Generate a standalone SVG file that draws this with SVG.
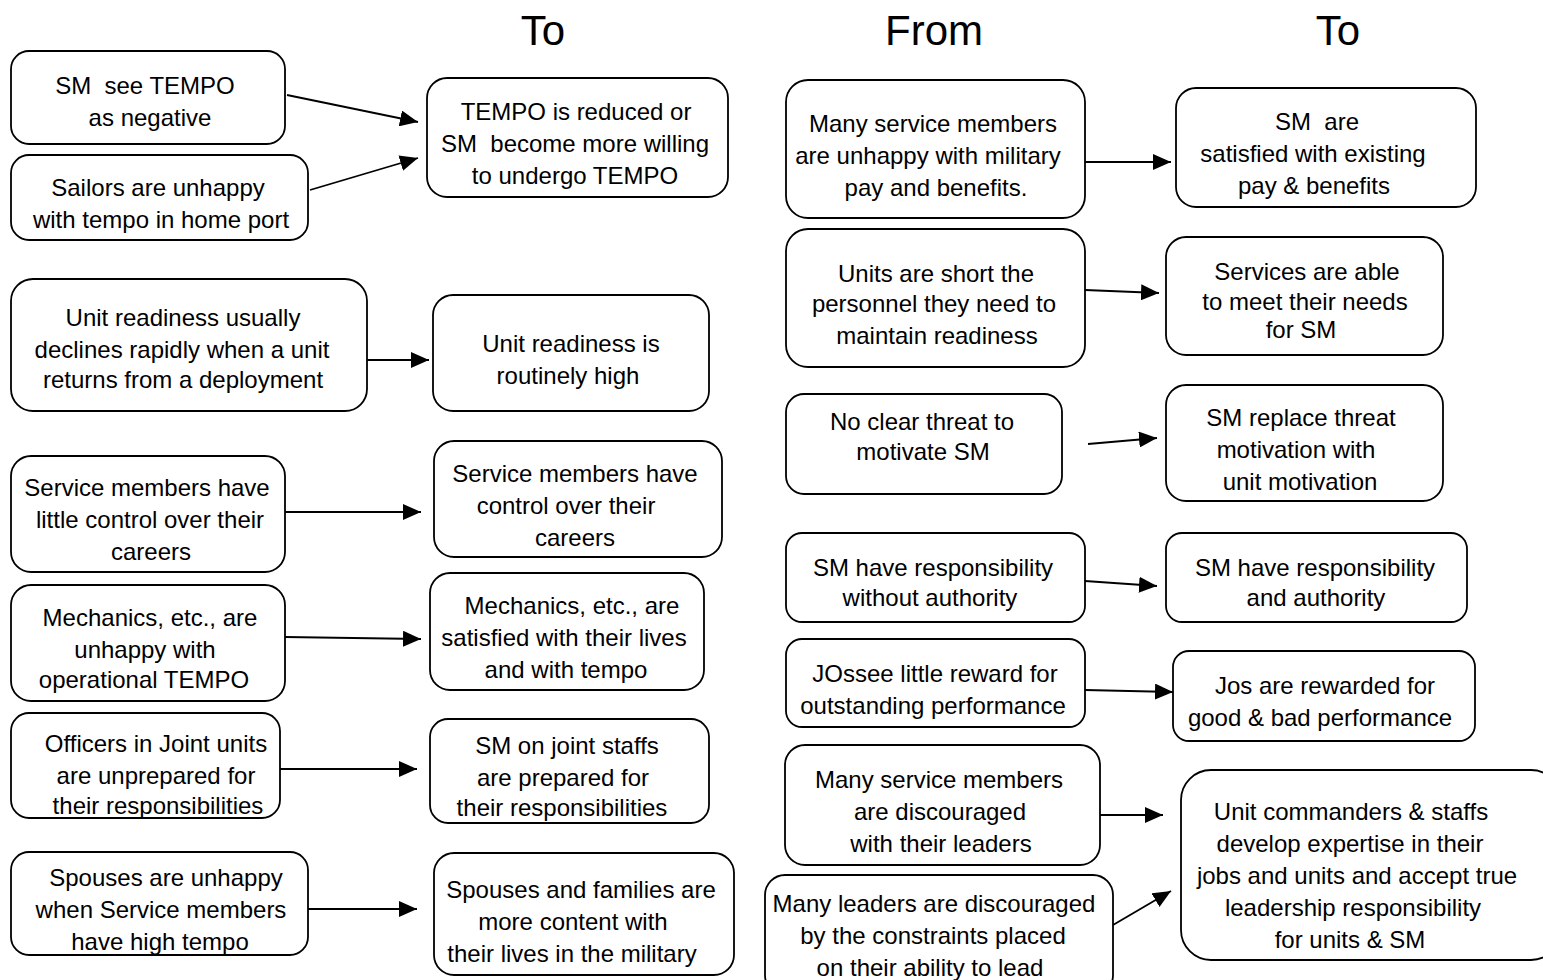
<svg xmlns="http://www.w3.org/2000/svg" width="1543" height="980" viewBox="0 0 1543 980">
  <style>
    .box { fill: #ffffff; stroke: #000000; stroke-width: 1.8; }
    .t { font-family: "Liberation Sans", Arial, sans-serif; font-size: 24px; fill: #000000; text-anchor: middle; }
    .title { font-family: "Liberation Sans", Arial, sans-serif; font-size: 42px; fill: #000000; text-anchor: middle; }
    .arrow { stroke: #000000; stroke-width: 1.8; fill: none; marker-end: url(#head); }
  </style>
  <defs>
    <marker id="head" markerUnits="userSpaceOnUse" markerWidth="20" markerHeight="16" refX="18" refY="8" orient="auto">
      <path d="M0,0 L18,8 L0,16 Z" fill="#000000"/>
    </marker>
  </defs>
  <rect x="0" y="0" width="1543" height="980" fill="#ffffff"/>

  <!-- column headings -->
  <g id="headings">
    <text class="title" x="543" y="45">To</text>
    <text class="title" x="934" y="45">From</text>
    <text class="title" x="1338" y="45">To</text>
  </g>

  <!-- connectors -->
  <g id="connectors">
    <line class="arrow" x1="287" y1="95" x2="418" y2="122"/>
    <line class="arrow" x1="310" y1="190" x2="418" y2="158"/>
    <line class="arrow" x1="367" y1="360" x2="429" y2="360"/>
    <line class="arrow" x1="285" y1="512" x2="421" y2="512"/>
    <line class="arrow" x1="285" y1="637" x2="421" y2="639"/>
    <line class="arrow" x1="280" y1="769" x2="417" y2="769"/>
    <line class="arrow" x1="308" y1="909" x2="417" y2="909"/>

    <line class="arrow" x1="1085" y1="162" x2="1171" y2="162"/>
    <line class="arrow" x1="1085" y1="290" x2="1159" y2="293"/>
    <line class="arrow" x1="1088" y1="444" x2="1157" y2="438"/>
    <line class="arrow" x1="1085" y1="581" x2="1157" y2="586"/>
    <line class="arrow" x1="1085" y1="690" x2="1173" y2="692"/>
    <line class="arrow" x1="1100" y1="815" x2="1163" y2="815"/>
    <line class="arrow" x1="1113" y1="925" x2="1171" y2="891"/>
  </g>

  <!-- left "From" column -->
  <g id="n-tempo-negative">
    <rect class="box" x="11" y="51" width="274" height="93" rx="18"/>
    <text class="t" x="145" y="94" xml:space="preserve">SM  see TEMPO</text>
    <text class="t" x="150" y="126">as negative</text>
  </g>
  <g id="n-sailors">
    <rect class="box" x="11" y="155" width="297" height="85" rx="18"/>
    <text class="t" x="158" y="196">Sailors are unhappy</text>
    <text class="t" x="161" y="228">with tempo in home port</text>
  </g>
  <g id="n-readiness-declines">
    <rect class="box" x="11" y="279" width="356" height="132" rx="22"/>
    <text class="t" x="183" y="326">Unit readiness usually</text>
    <text class="t" x="182" y="358">declines rapidly when a unit</text>
    <text class="t" x="183" y="388">returns from a deployment</text>
  </g>
  <g id="n-little-control">
    <rect class="box" x="11" y="456" width="274" height="116" rx="20"/>
    <text class="t" x="147" y="496">Service members have</text>
    <text class="t" x="150" y="528">little control over their</text>
    <text class="t" x="151" y="560">careers</text>
  </g>
  <g id="n-mechanics-unhappy">
    <rect class="box" x="11" y="585" width="274" height="116" rx="20"/>
    <text class="t" x="150" y="626">Mechanics, etc., are</text>
    <text class="t" x="145" y="658">unhappy with</text>
    <text class="t" x="144" y="688">operational TEMPO</text>
  </g>
  <g id="n-officers-unprepared">
    <rect class="box" x="11" y="713" width="269" height="105" rx="18"/>
    <text class="t" x="156" y="752">Officers in Joint units</text>
    <text class="t" x="156" y="784">are unprepared for</text>
    <text class="t" x="158" y="814">their responsibilities</text>
  </g>
  <g id="n-spouses-unhappy">
    <rect class="box" x="11" y="852" width="297" height="103" rx="18"/>
    <text class="t" x="166" y="886">Spouses are unhappy</text>
    <text class="t" x="161" y="918">when Service members</text>
    <text class="t" x="160" y="950">have high tempo</text>
  </g>

  <!-- left "To" column -->
  <g id="n-tempo-reduced">
    <rect class="box" x="427" y="78" width="301" height="119" rx="20"/>
    <text class="t" x="576" y="120">TEMPO is reduced or</text>
    <text class="t" x="575" y="152" xml:space="preserve">SM  become more willing</text>
    <text class="t" x="575" y="184">to undergo TEMPO</text>
  </g>
  <g id="n-readiness-high">
    <rect class="box" x="433" y="295" width="276" height="116" rx="20"/>
    <text class="t" x="571" y="352">Unit readiness is</text>
    <text class="t" x="568" y="384">routinely high</text>
  </g>
  <g id="n-control">
    <rect class="box" x="434" y="441" width="288" height="116" rx="20"/>
    <text class="t" x="575" y="482">Service members have</text>
    <text class="t" x="566" y="514">control over their</text>
    <text class="t" x="575" y="546">careers</text>
  </g>
  <g id="n-mechanics-satisfied">
    <rect class="box" x="430" y="573" width="274" height="117" rx="20"/>
    <text class="t" x="572" y="614">Mechanics, etc., are</text>
    <text class="t" x="564" y="646">satisfied with their lives</text>
    <text class="t" x="566" y="678">and with tempo</text>
  </g>
  <g id="n-officers-prepared">
    <rect class="box" x="430" y="719" width="279" height="104" rx="18"/>
    <text class="t" x="567" y="754">SM on joint staffs</text>
    <text class="t" x="563" y="786">are prepared for</text>
    <text class="t" x="562" y="816">their responsibilities</text>
  </g>
  <g id="n-spouses-content">
    <rect class="box" x="434" y="853" width="300" height="122" rx="20"/>
    <text class="t" x="581" y="898">Spouses and families are</text>
    <text class="t" x="573" y="930">more content with</text>
    <text class="t" x="572" y="962">their lives in the military</text>
  </g>

  <!-- right "From" column -->
  <g id="n-pay-unhappy">
    <rect class="box" x="786" y="80" width="299" height="138" rx="22"/>
    <text class="t" x="933" y="132">Many service members</text>
    <text class="t" x="928" y="164">are unhappy with military</text>
    <text class="t" x="936" y="196">pay and benefits.</text>
  </g>
  <g id="n-units-short">
    <rect class="box" x="786" y="229" width="299" height="138" rx="22"/>
    <text class="t" x="936" y="282">Units are short the</text>
    <text class="t" x="934" y="312">personnel they need to</text>
    <text class="t" x="937" y="344">maintain readiness</text>
  </g>
  <g id="n-no-threat">
    <rect class="box" x="786" y="394" width="276" height="100" rx="18"/>
    <text class="t" x="922" y="430">No clear threat to</text>
    <text class="t" x="923" y="460">motivate SM</text>
  </g>
  <g id="n-no-authority">
    <rect class="box" x="786" y="533" width="299" height="89" rx="16"/>
    <text class="t" x="933" y="576">SM have responsibility</text>
    <text class="t" x="930" y="606">without authority</text>
  </g>
  <g id="n-little-reward">
    <rect class="box" x="786" y="639" width="299" height="88" rx="16"/>
    <text class="t" x="935" y="682">JOssee little reward for</text>
    <text class="t" x="933" y="714">outstanding performance</text>
  </g>
  <g id="n-discouraged-leaders">
    <rect class="box" x="785" y="745" width="315" height="120" rx="20"/>
    <text class="t" x="939" y="788">Many service members</text>
    <text class="t" x="940" y="820">are discouraged</text>
    <text class="t" x="941" y="852">with their leaders</text>
  </g>
  <g id="n-leaders-constrained">
    <rect class="box" x="765" y="875" width="348" height="120" rx="20"/>
    <text class="t" x="934" y="912">Many leaders are discouraged</text>
    <text class="t" x="933" y="944">by the constraints placed</text>
    <text class="t" x="930" y="976">on their ability to lead</text>
  </g>

  <!-- right "To" column -->
  <g id="n-pay-satisfied">
    <rect class="box" x="1176" y="88" width="300" height="119" rx="20"/>
    <text class="t" x="1317" y="130" xml:space="preserve">SM  are</text>
    <text class="t" x="1313" y="162">satisfied with existing</text>
    <text class="t" x="1314" y="194">pay &amp; benefits</text>
  </g>
  <g id="n-needs-met">
    <rect class="box" x="1166" y="237" width="277" height="118" rx="20"/>
    <text class="t" x="1307" y="280">Services are able</text>
    <text class="t" x="1305" y="310">to meet their needs</text>
    <text class="t" x="1301" y="338">for SM</text>
  </g>
  <g id="n-unit-motivation">
    <rect class="box" x="1166" y="385" width="277" height="116" rx="20"/>
    <text class="t" x="1301" y="426">SM replace threat</text>
    <text class="t" x="1296" y="458">motivation with</text>
    <text class="t" x="1300" y="490">unit motivation</text>
  </g>
  <g id="n-authority">
    <rect class="box" x="1166" y="533" width="301" height="89" rx="16"/>
    <text class="t" x="1315" y="576">SM have responsibility</text>
    <text class="t" x="1316" y="606">and authority</text>
  </g>
  <g id="n-rewarded">
    <rect class="box" x="1173" y="651" width="302" height="90" rx="16"/>
    <text class="t" x="1325" y="694">Jos are rewarded for</text>
    <text class="t" x="1320" y="726">good &amp; bad performance</text>
  </g>
  <g id="n-expertise">
    <rect class="box" x="1181" y="770" width="380" height="190" rx="30"/>
    <text class="t" x="1351" y="820">Unit commanders &amp; staffs</text>
    <text class="t" x="1350" y="852">develop expertise in their</text>
    <text class="t" x="1357" y="884">jobs and units and accept true</text>
    <text class="t" x="1353" y="916">leadership responsibility</text>
    <text class="t" x="1350" y="948">for units &amp; SM</text>
  </g>
</svg>
